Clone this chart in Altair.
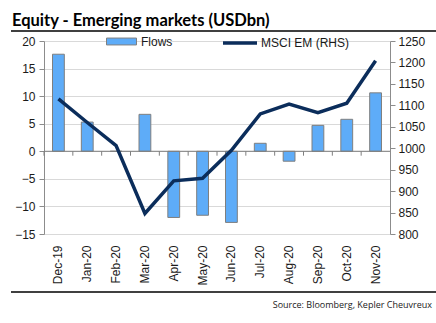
import altair as alt
import pandas as pd

months = ["Dec-19", "Jan-20", "Feb-20", "Mar-20", "Apr-20", "May-20",
          "Jun-20", "Jul-20", "Aug-20", "Sep-20", "Oct-20", "Nov-20"]
flows = [17.6, 5.3, 0.0, 6.7, -12.0, -11.6, -12.9, 1.45, -1.8, 4.7, 5.8, 10.6]
msci = [1115, 1060, 1006, 848, 924, 930, 995, 1080, 1103, 1083, 1105, 1204]
left_ticks = [-15, -10, -5, 0, 5, 10, 15, 20]
right_ticks = [800, 850, 900, 950, 1000, 1050, 1100, 1150, 1200, 1250]

df = pd.DataFrame({"month": months, "flows": flows, "msci": msci})
one = pd.DataFrame({"k": [0]})

FONT = "Liberation Sans"
TXT = "#1a1a1a"

xaxis = alt.Axis(labelAngle=-90, labelAlign="right", labelBaseline="middle",
                 labelPadding=11, ticks=False, domain=False, title=None,
                 labelFont=FONT, labelFontSize=12, labelColor=TXT)
xscale = alt.Scale(paddingInner=0, paddingOuter=0)

yleft = alt.Scale(domain=[-15, 20], nice=False, zero=False)
yaxis = alt.Axis(values=left_ticks, orient="left", tickSize=5, tickColor="#8c8c8c",
                 domainColor="#8c8c8c", gridColor="#d9d9d9", grid=True, title=None,
                 labelOverlap=False, labelFont=FONT, labelFontSize=12, labelColor=TXT,
                 labelPadding=4)

bars = alt.Chart(df).transform_calculate(series="'Flows'").mark_bar(
    width=alt.RelativeBandSize(0.41), stroke="#7f7f7f", strokeWidth=1
).encode(
    x=alt.X("month:N", sort=months, scale=xscale, axis=xaxis),
    y=alt.Y("flows:Q", scale=yleft, axis=yaxis),
    fill=alt.Fill("series:N", scale=alt.Scale(domain=["Flows"], range=["#5eacf8"]),
                  legend=alt.Legend(orient="none", legendX=62, legendY=-15, title=None,
                                    direction="horizontal", padding=0,
                                    symbolType="M-1,-0.23H1V0.23H-1Z", symbolSize=900,
                                    symbolStrokeColor="#7f7f7f", symbolStrokeWidth=1,
                                    labelFont=FONT, labelFontSize=12, labelColor=TXT,
                                    labelOffset=4)),
)

zero = alt.Chart(one).mark_rule(color="#7f7f7f", strokeWidth=1).encode(
    y=alt.datum(0, scale=yleft, axis=yaxis)
)

zticks = alt.Chart(df).mark_rule(color="#7f7f7f", strokeWidth=1).encode(
    x=alt.X("month:N", sort=months, bandPosition=0, scale=xscale, axis=xaxis),
    y=alt.datum(0, scale=yleft, axis=yaxis),
    y2=alt.datum(-0.8),
)

line = alt.Chart(df).transform_calculate(series="'MSCI EM (RHS)'").mark_line(
    strokeWidth=3.5
).encode(
    x=alt.X("month:N", sort=months, scale=xscale, axis=xaxis),
    y=alt.Y("msci:Q", scale=alt.Scale(domain=[800, 1250], nice=False, zero=False), title=None,
            axis=alt.Axis(values=right_ticks, orient="right", tickSize=5, tickColor="#8c8c8c",
                          domainColor="#8c8c8c", grid=False, format="d", labelOverlap=False,
                          labelFont=FONT, labelFontSize=12, labelColor=TXT, labelPadding=3)),
    stroke=alt.Stroke("series:N", scale=alt.Scale(domain=["MSCI EM (RHS)"], range=["#0b2d5b"]),
                      legend=alt.Legend(orient="none", legendX=177, legendY=-17, title=None,
                                        direction="horizontal", padding=0,
                                        symbolType="stroke", symbolSize=1156,
                                        symbolStrokeWidth=3.5,
                                        labelFont=FONT, labelFontSize=12, labelColor=TXT,
                                        labelOffset=2)),
)

title_txt = alt.Chart(one).mark_text(
    text="Equity - Emerging markets (USDbn)", font="Lato", fontWeight="bold",
    fontSize=16.5, align="left", baseline="alphabetic", color="#000000"
).encode(x=alt.value(-32), y=alt.value(-15))

source_txt = alt.Chart(one).mark_text(
    text="Source: Bloomberg, Kepler Cheuvreux", font="Open Sans", fontSize=9,
    fontWeight="normal", align="right", baseline="alphabetic", color="#222222"
).encode(x=alt.value(388), y=alt.value(267))

top_rule = alt.Chart(one).mark_rule(color="#000000", strokeWidth=1.5).encode(
    x=alt.value(-33), x2=alt.value(392), y=alt.value(-10))
bot_rule = alt.Chart(one).mark_rule(color="#000000", strokeWidth=1.5).encode(
    x=alt.value(-33), x2=alt.value(392), y=alt.value(251))

left = alt.layer(bars, zero, zticks)
chart = alt.layer(left, line, title_txt, source_txt, top_rule, bot_rule).resolve_scale(
    y="independent", fill="independent", stroke="independent"
).properties(
    width=346, height=193,
    autosize=alt.AutoSizeParams(type="none"),
    padding={"left": 44, "top": 41, "right": 46, "bottom": 89},
    background="white",
).configure_view(stroke=None)

chart.save("out.html", embed_options={"renderer": "svg", "actions": False})
